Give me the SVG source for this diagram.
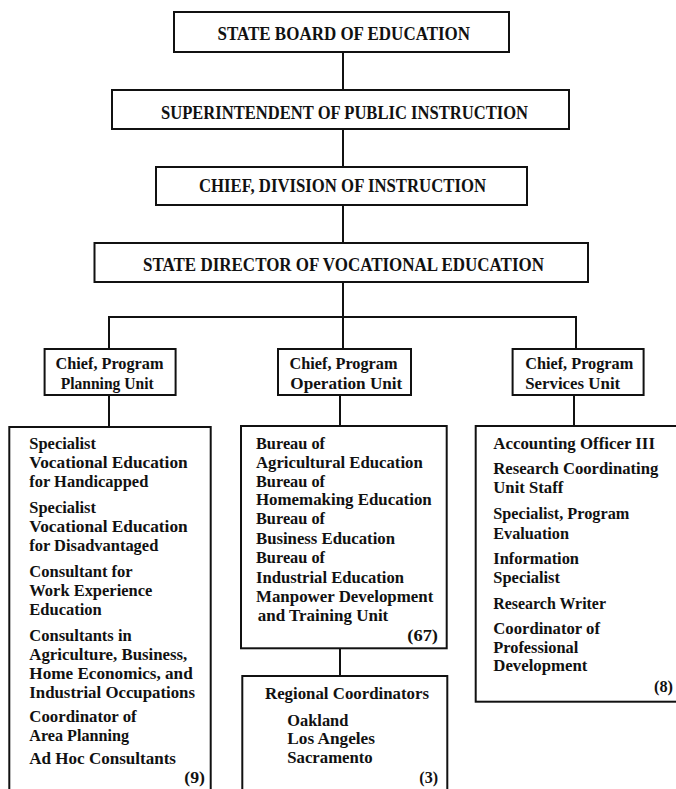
<svg xmlns="http://www.w3.org/2000/svg" width="676" height="789" viewBox="0 0 676 789">
<style>
rect{fill:#fff;stroke:#111;stroke-width:2}
.c line{stroke:#111;stroke-width:2}
text{font-family:"Liberation Serif","Times New Roman",serif;font-weight:bold;font-size:17px;fill:#111}
.cap{font-size:19px}
</style>
<rect x="0" y="0" width="676" height="789" style="stroke:none"/>
<g class="c" id="connectors">
<line x1="343" y1="52" x2="343" y2="90"/>
<line x1="343" y1="129" x2="343" y2="167"/>
<line x1="343" y1="205" x2="343" y2="243"/>
<line x1="343" y1="282" x2="343" y2="317"/>
<line x1="108" y1="317" x2="577" y2="317"/>
<line x1="109" y1="317" x2="109" y2="349"/>
<line x1="343" y1="317" x2="343" y2="349"/>
<line x1="576" y1="317" x2="576" y2="349"/>
<line x1="109" y1="395" x2="109" y2="427"/>
<line x1="340" y1="395" x2="340" y2="426"/>
<line x1="574" y1="395" x2="574" y2="426"/>
<line x1="340" y1="648" x2="340" y2="676"/>
</g>
<g id="board">
<rect x="174" y="12" width="335" height="40"/>
<text class="cap" x="217.5" y="39.5" textLength="252.5" lengthAdjust="spacingAndGlyphs">STATE BOARD OF EDUCATION</text>
</g>
<g id="superintendent">
<rect x="112" y="90" width="457" height="39"/>
<text class="cap" x="161" y="118.5" textLength="367" lengthAdjust="spacingAndGlyphs">SUPERINTENDENT OF PUBLIC INSTRUCTION</text>
</g>
<g id="chief-division">
<rect x="156" y="167" width="371" height="38"/>
<text class="cap" x="199" y="191.5" textLength="287" lengthAdjust="spacingAndGlyphs">CHIEF, DIVISION OF INSTRUCTION</text>
</g>
<g id="state-director">
<rect x="94.5" y="243" width="493.5" height="39"/>
<text class="cap" x="143" y="270.5" textLength="401" lengthAdjust="spacingAndGlyphs">STATE DIRECTOR OF VOCATIONAL EDUCATION</text>
</g>
<g id="chief-planning">
<rect x="44.6" y="349" width="131" height="46"/>
<text x="55.5" y="369" textLength="108" lengthAdjust="spacingAndGlyphs">Chief, Program</text>
<text x="60.7" y="389" textLength="93" lengthAdjust="spacingAndGlyphs">Planning Unit</text>
</g>
<g id="chief-operation">
<rect x="278" y="349" width="133" height="46"/>
<text x="289.5" y="369" textLength="108" lengthAdjust="spacingAndGlyphs">Chief, Program</text>
<text x="290.3" y="389" textLength="112" lengthAdjust="spacingAndGlyphs">Operation Unit</text>
</g>
<g id="chief-services">
<rect x="512.6" y="349" width="131" height="46"/>
<text x="525.2" y="369" textLength="108" lengthAdjust="spacingAndGlyphs">Chief, Program</text>
<text x="525.2" y="389" textLength="95" lengthAdjust="spacingAndGlyphs">Services Unit</text>
</g>
<g id="planning-staff">
<rect x="9.3" y="427" width="201.4" height="370"/>
<text x="29.3" y="449" textLength="66.7" lengthAdjust="spacingAndGlyphs">Specialist</text>
<text x="29.3" y="468" textLength="158.4" lengthAdjust="spacingAndGlyphs">Vocational Education</text>
<text x="29.3" y="487" textLength="119" lengthAdjust="spacingAndGlyphs">for Handicapped</text>
<text x="29.3" y="513" textLength="66.7" lengthAdjust="spacingAndGlyphs">Specialist</text>
<text x="29.3" y="532" textLength="158.4" lengthAdjust="spacingAndGlyphs">Vocational Education</text>
<text x="29.3" y="551" textLength="129" lengthAdjust="spacingAndGlyphs">for Disadvantaged</text>
<text x="29.3" y="577" textLength="103.4" lengthAdjust="spacingAndGlyphs">Consultant for</text>
<text x="29.3" y="596" textLength="123" lengthAdjust="spacingAndGlyphs">Work Experience</text>
<text x="29.3" y="615" textLength="72.4" lengthAdjust="spacingAndGlyphs">Education</text>
<text x="29.3" y="641" textLength="102.4" lengthAdjust="spacingAndGlyphs">Consultants in</text>
<text x="29.3" y="660" textLength="158" lengthAdjust="spacingAndGlyphs">Agriculture, Business,</text>
<text x="29.3" y="679" textLength="163.4" lengthAdjust="spacingAndGlyphs">Home Economics, and</text>
<text x="29.3" y="698" textLength="165.7" lengthAdjust="spacingAndGlyphs">Industrial Occupations</text>
<text x="29.3" y="722" textLength="107.4" lengthAdjust="spacingAndGlyphs">Coordinator of</text>
<text x="29.3" y="741" textLength="99.7" lengthAdjust="spacingAndGlyphs">Area Planning</text>
<text x="29.3" y="764" textLength="146.7" lengthAdjust="spacingAndGlyphs">Ad Hoc Consultants</text>
<text x="184.3" y="783" textLength="20.7" lengthAdjust="spacingAndGlyphs">(9)</text>
</g>
<g id="operation-bureaus">
<rect x="241" y="426" width="205.7" height="222.3"/>
<text x="256" y="449" textLength="69" lengthAdjust="spacingAndGlyphs">Bureau of</text>
<text x="256" y="468" textLength="166.7" lengthAdjust="spacingAndGlyphs">Agricultural Education</text>
<text x="256" y="487" textLength="69" lengthAdjust="spacingAndGlyphs">Bureau of</text>
<text x="256" y="505" textLength="175.7" lengthAdjust="spacingAndGlyphs">Homemaking Education</text>
<text x="256" y="524" textLength="69" lengthAdjust="spacingAndGlyphs">Bureau of</text>
<text x="256" y="544" textLength="139" lengthAdjust="spacingAndGlyphs">Business Education</text>
<text x="256" y="563" textLength="69" lengthAdjust="spacingAndGlyphs">Bureau of</text>
<text x="256" y="583" textLength="148" lengthAdjust="spacingAndGlyphs">Industrial Education</text>
<text x="256" y="602" textLength="177.3" lengthAdjust="spacingAndGlyphs">Manpower Development</text>
<text x="257.7" y="621" textLength="130.6" lengthAdjust="spacingAndGlyphs">and Training Unit</text>
<text x="407.3" y="641" textLength="30.7" lengthAdjust="spacingAndGlyphs">(67)</text>
</g>
<g id="regional-coordinators">
<rect x="242.3" y="676" width="205" height="121"/>
<text x="265" y="699" textLength="164" lengthAdjust="spacingAndGlyphs">Regional Coordinators</text>
<text x="287.3" y="726" textLength="61" lengthAdjust="spacingAndGlyphs">Oakland</text>
<text x="287.3" y="744" textLength="87.7" lengthAdjust="spacingAndGlyphs">Los Angeles</text>
<text x="287.3" y="763" textLength="85.4" lengthAdjust="spacingAndGlyphs">Sacramento</text>
<text x="419.3" y="783" textLength="18.7" lengthAdjust="spacingAndGlyphs">(3)</text>
</g>
<g id="services-staff">
<rect x="475.7" y="426" width="210" height="275.7"/>
<text x="493.3" y="449" textLength="161.7" lengthAdjust="spacingAndGlyphs">Accounting Officer III</text>
<text x="493.3" y="474" textLength="165" lengthAdjust="spacingAndGlyphs">Research Coordinating</text>
<text x="493.3" y="493" textLength="70" lengthAdjust="spacingAndGlyphs">Unit Staff</text>
<text x="493.3" y="519" textLength="136" lengthAdjust="spacingAndGlyphs">Specialist, Program</text>
<text x="493.3" y="539" textLength="75.7" lengthAdjust="spacingAndGlyphs">Evaluation</text>
<text x="493.3" y="564" textLength="85.7" lengthAdjust="spacingAndGlyphs">Information</text>
<text x="493.3" y="583" textLength="66.7" lengthAdjust="spacingAndGlyphs">Specialist</text>
<text x="493.3" y="609" textLength="112.7" lengthAdjust="spacingAndGlyphs">Research Writer</text>
<text x="493.3" y="634" textLength="106.7" lengthAdjust="spacingAndGlyphs">Coordinator of</text>
<text x="493.3" y="653" textLength="85" lengthAdjust="spacingAndGlyphs">Professional</text>
<text x="493.3" y="671" textLength="94" lengthAdjust="spacingAndGlyphs">Development</text>
<text x="654" y="692" textLength="19" lengthAdjust="spacingAndGlyphs">(8)</text>
</g>
</svg>
